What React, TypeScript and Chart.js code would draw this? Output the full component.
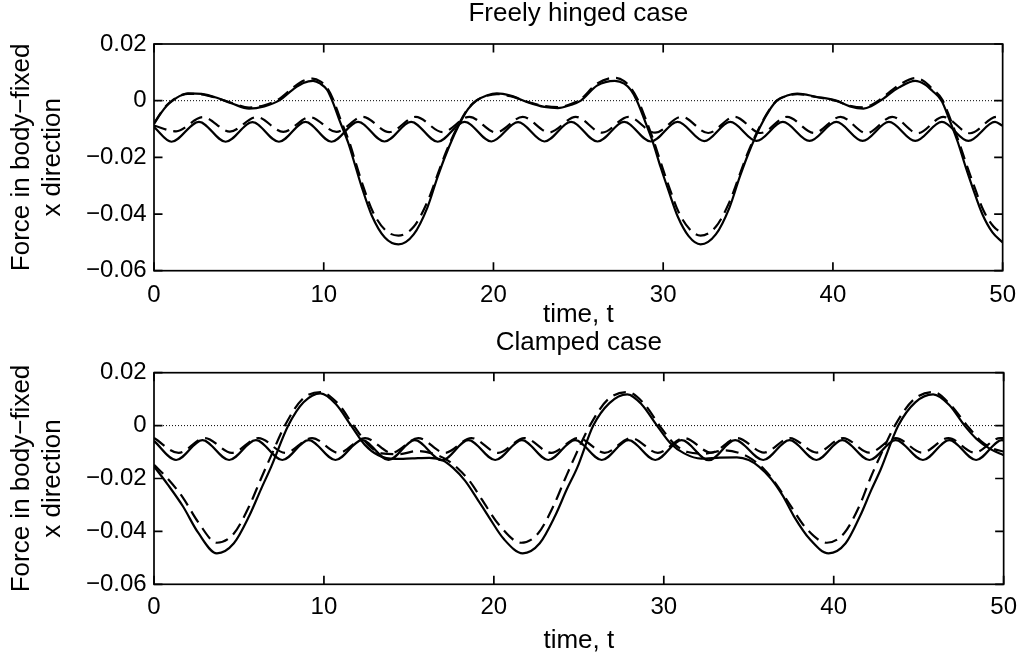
import React, { useEffect, useRef } from 'react';
import { Chart, registerables } from 'chart.js';

Chart.register(...registerables);

const FONT = "'Liberation Sans', Arial, Helvetica, sans-serif";

// ---- axes ----
const X_TICKS = [0, 10, 20, 30, 40, 50];
const X_TICK_LABELS = ['0', '10', '20', '30', '40', '50'];
const Y_TICKS = [-0.06, -0.04, -0.02, 0, 0.02];
const Y_TICK_LABELS = ['\u22120.06', '\u22120.04', '\u22120.02', '0', '0.02'];
const Y_LABEL = ['Force in body\u2212fixed', 'x direction'];
const X_LABEL = 'time, t';
const TOP_TITLE = 'Freely hinged case';
const BOTTOM_TITLE = 'Clamped case';

// ---- zero reference line ----
const ZERO_T = [0, 50];
const ZERO_V = [0, 0];

// ---- top panel (freely hinged): large curve, solid ----
const TOP_BIG_SOLID_T = [0, 0.4, 0.75, 1.1, 1.5, 2.0, 2.8, 3.6, 4.6, 5.6, 6.5, 7.36, 8.2, 8.8, 9.37, 9.8, 10.2, 10.5, 10.9, 11.45, 11.85, 12.24, 12.83, 13.6, 14.4, 15.3, 16.1, 16.7, 17.2, 17.9, 18.5, 19.0, 19.6, 20.2, 21.0, 22.0, 23.0, 23.8, 24.5, 25.15, 26.1, 27.15, 27.7, 28.1, 28.45, 28.9, 29.4, 29.85, 30.3, 30.85, 31.5, 32.2, 33.1, 33.9, 34.5, 35.0, 35.7, 36.3, 36.7, 37.3, 37.9, 39.0, 40.2, 41.0, 41.8, 42.3, 42.8, 43.9, 44.85, 45.4, 45.85, 46.4, 46.85, 47.35, 47.8, 48.25, 48.8, 49.4, 50];
const TOP_BIG_SOLID_V = [-0.0082, -0.0045, -0.0018, 0.0, 0.0016, 0.0026, 0.0024, 0.0012, -0.0010, -0.0028, -0.0020, 0.0, 0.0040, 0.0062, 0.0070, 0.0060, 0.0038, 0.0, -0.0065, -0.0150, -0.0228, -0.0305, -0.0405, -0.0483, -0.0507, -0.0472, -0.0378, -0.0271, -0.0190, -0.0094, -0.0030, 0.0, 0.0018, 0.0026, 0.0018, -0.0005, -0.0022, -0.0026, -0.0016, 0.0, 0.0053, 0.0070, 0.0060, 0.0037, 0.0, -0.0068, -0.0148, -0.0235, -0.0315, -0.0408, -0.0478, -0.0507, -0.0472, -0.0378, -0.0271, -0.0190, -0.0094, -0.0030, 0.0, 0.0018, 0.0025, 0.0014, 0.0, -0.0020, -0.0028, -0.0018, 0.0, 0.0047, 0.0070, 0.0058, 0.0035, 0.0, -0.0065, -0.0145, -0.0230, -0.0310, -0.0400, -0.0465, -0.0500];

// ---- top panel: large curve, dashed ----
const TOP_BIG_DASH_T = [0, 0.4, 0.75, 1.1, 1.5, 2.0, 2.8, 3.6, 4.6, 5.6, 6.5, 7.3, 8.2, 8.8, 9.35, 9.8, 10.2, 10.55, 10.95, 11.5, 11.9, 12.3, 12.9, 13.65, 14.4, 15.3, 16.1, 16.7, 17.2, 17.9, 18.5, 19.0, 19.6, 20.2, 21.0, 22.0, 23.0, 23.8, 24.5, 25.1, 26.1, 27.15, 27.7, 28.1, 28.5, 28.95, 29.45, 29.9, 30.35, 30.9, 31.55, 32.2, 33.1, 33.9, 34.5, 35.0, 35.7, 36.3, 36.7, 37.3, 37.9, 39.0, 40.2, 41.0, 41.8, 42.3, 42.75, 43.9, 44.85, 45.4, 45.85, 46.45, 46.9, 47.4, 47.85, 48.3, 48.85, 49.45, 50];
const TOP_BIG_DASH_V = [-0.0080, -0.0043, -0.0016, 0.0002, 0.0017, 0.0024, 0.0022, 0.0011, -0.0008, -0.0024, -0.0016, 0.0003, 0.0046, 0.0070, 0.0078, 0.0068, 0.0045, 0.0005, -0.0060, -0.0145, -0.0222, -0.0298, -0.0393, -0.0458, -0.0476, -0.0445, -0.0358, -0.0262, -0.0182, -0.0090, -0.0028, 0.0001, 0.0017, 0.0023, 0.0016, -0.0004, -0.0019, -0.0023, -0.0013, 0.0003, 0.0060, 0.0081, 0.0069, 0.0044, 0.0004, -0.0062, -0.0144, -0.0226, -0.0305, -0.0392, -0.0453, -0.0476, -0.0445, -0.0358, -0.0262, -0.0182, -0.0090, -0.0028, 0.0001, 0.0017, 0.0023, 0.0013, -0.0001, -0.0018, -0.0024, -0.0014, 0.0003, 0.0055, 0.0080, 0.0067, 0.0042, 0.0003, -0.0062, -0.0142, -0.0222, -0.0298, -0.0385, -0.0443, -0.0470];

// ---- top panel: small oscillation, solid ----
const TOP_SMALL_SOLID_T = [0, 1.03, 2.65, 4.22, 5.8, 7.36, 8.92, 10.46, 12.02, 13.58, 15.15, 16.72, 18.3, 19.88, 21.45, 23.0, 24.57, 26.13, 27.7, 29.27, 30.85, 32.42, 33.95, 35.5, 37.05, 38.62, 40.2, 41.75, 43.3, 44.85, 46.42, 47.98, 49.55, 50];
const TOP_SMALL_SOLID_V = [-0.0093, -0.0145, -0.0075, -0.0145, -0.0076, -0.0145, -0.0075, -0.0145, -0.0075, -0.0144, -0.0075, -0.0145, -0.0075, -0.0144, -0.0076, -0.0144, -0.0075, -0.0144, -0.0075, -0.0144, -0.0075, -0.0143, -0.0075, -0.0142, -0.0075, -0.0142, -0.0075, -0.0142, -0.0075, -0.0142, -0.0075, -0.0142, -0.0075, -0.0089];

// ---- top panel: small oscillation, dashed ----
const TOP_SMALL_DASH_T = [0, 1.3, 2.88, 4.47, 6.05, 7.62, 9.18, 10.75, 12.3, 13.86, 15.42, 17.0, 18.58, 20.15, 21.72, 23.28, 24.85, 26.4, 27.95, 29.52, 31.08, 32.65, 34.2, 35.75, 37.3, 38.88, 40.45, 41.98, 43.5, 45.0, 46.5, 48.08, 49.65, 50];
const TOP_SMALL_DASH_V = [-0.0088, -0.0108, -0.0058, -0.0109, -0.0058, -0.0110, -0.0058, -0.0110, -0.0057, -0.0111, -0.0057, -0.0111, -0.0057, -0.0112, -0.0057, -0.0112, -0.0057, -0.0113, -0.0057, -0.0113, -0.0057, -0.0114, -0.0057, -0.0114, -0.0057, -0.0114, -0.0057, -0.0115, -0.0057, -0.0115, -0.0057, -0.0115, -0.0057, -0.0063];

// ---- bottom panel (clamped): large curve, solid ----
const BOT_BIG_SOLID_T = [0, 0.8, 1.7, 2.6, 3.7, 4.7, 5.6, 6.3, 6.9, 7.9, 8.8, 9.8, 10.7, 11.6, 12.4, 13.2, 14.2, 15.2, 16.2, 17.0, 17.6, 18.3, 19.0, 19.7, 20.6, 21.7, 22.7, 23.6, 24.3, 24.9, 25.85, 26.8, 27.85, 28.7, 29.6, 30.4, 31.2, 32.2, 33.3, 34.3, 35.0, 35.6, 36.3, 37.0, 37.65, 38.6, 39.7, 40.7, 41.55, 42.2, 42.75, 43.8, 44.8, 45.85, 46.8, 47.7, 48.4, 49.2, 50];
const BOT_BIG_SOLID_V = [-0.0154, -0.0222, -0.0305, -0.0405, -0.0483, -0.0445, -0.0342, -0.0240, -0.0155, 0.0, 0.0088, 0.0122, 0.0082, 0.0, -0.0072, -0.0112, -0.0126, -0.0124, -0.0122, -0.0132, -0.0160, -0.0208, -0.0275, -0.0345, -0.0430, -0.0483, -0.0445, -0.0342, -0.0240, -0.0160, 0.0, 0.0085, 0.0118, 0.0080, 0.0, -0.0068, -0.0105, -0.0125, -0.0121, -0.0120, -0.0130, -0.0155, -0.0200, -0.0265, -0.0342, -0.0430, -0.0483, -0.0445, -0.0342, -0.0245, -0.0168, 0.0, 0.0088, 0.0118, 0.0078, 0.0, -0.0050, -0.0088, -0.0112];

// ---- bottom panel: large curve, dashed ----
const BOT_BIG_DASH_T = [0, 0.8, 1.7, 2.6, 3.7, 4.7, 5.6, 6.3, 6.85, 7.7, 8.7, 9.8, 10.8, 11.75, 12.6, 13.4, 14.4, 15.5, 16.4, 17.2, 17.9, 18.6, 19.3, 20.3, 21.6, 22.6, 23.5, 24.2, 24.75, 25.65, 26.7, 27.85, 28.85, 29.75, 30.6, 31.4, 32.4, 33.6, 34.5, 35.2, 35.9, 36.6, 37.35, 38.4, 39.6, 40.6, 41.5, 42.15, 42.7, 43.6, 44.7, 45.85, 46.85, 47.85, 48.7, 49.4, 50];
const BOT_BIG_DASH_V = [-0.0148, -0.0200, -0.0272, -0.0365, -0.0443, -0.0408, -0.0305, -0.0200, -0.0120, 0.0, 0.0098, 0.0127, 0.0085, 0.0, -0.0072, -0.0105, -0.0108, -0.0096, -0.0106, -0.0128, -0.0163, -0.0212, -0.0280, -0.0375, -0.0443, -0.0408, -0.0305, -0.0200, -0.0120, 0.0, 0.0098, 0.0127, 0.0082, 0.0, -0.0068, -0.0100, -0.0106, -0.0094, -0.0105, -0.0128, -0.0165, -0.0220, -0.0292, -0.0390, -0.0443, -0.0408, -0.0305, -0.0200, -0.0120, 0.0, 0.0098, 0.0127, 0.0080, 0.0, -0.0060, -0.0088, -0.0098];

// ---- bottom panel: small oscillation, solid ----
const BOT_SMALL_SOLID_T = [0, 1.3, 2.85, 4.42, 6.0, 7.55, 9.1, 10.68, 12.25, 13.8, 15.35, 16.95, 18.5, 20.08, 21.65, 23.2, 24.78, 26.35, 27.92, 29.5, 31.05, 32.65, 34.2, 35.85, 37.4, 38.98, 40.5, 42.1, 43.65, 45.25, 46.8, 48.38, 49.9, 50];
const BOT_SMALL_SOLID_V = [-0.0058, -0.0130, -0.0055, -0.0130, -0.0055, -0.0130, -0.0055, -0.0130, -0.0055, -0.0130, -0.0055, -0.0131, -0.0055, -0.0130, -0.0055, -0.0130, -0.0055, -0.0130, -0.0055, -0.0130, -0.0055, -0.0131, -0.0055, -0.0130, -0.0055, -0.0130, -0.0055, -0.0130, -0.0055, -0.0130, -0.0055, -0.0130, -0.0055, -0.0056];

// ---- bottom panel: small oscillation, dashed ----
const BOT_SMALL_DASH_T = [0, 1.45, 3.0, 4.58, 6.15, 7.72, 9.3, 10.86, 12.42, 14.0, 15.55, 17.12, 18.68, 20.25, 21.8, 23.38, 24.95, 26.52, 28.08, 29.65, 31.2, 32.78, 34.32, 35.9, 37.42, 39.0, 40.55, 42.1, 43.65, 45.2, 46.75, 48.28, 49.8, 50];
const BOT_SMALL_DASH_V = [-0.0047, -0.0103, -0.0047, -0.0103, -0.0047, -0.0103, -0.0047, -0.0103, -0.0047, -0.0103, -0.0047, -0.0103, -0.0047, -0.0103, -0.0047, -0.0103, -0.0047, -0.0103, -0.0047, -0.0103, -0.0047, -0.0102, -0.0047, -0.0102, -0.0047, -0.0102, -0.0047, -0.0102, -0.0047, -0.0102, -0.0047, -0.0102, -0.0047, -0.0048];

const pts = (t: number[], v: number[]) => t.map((x, i) => ({ x, y: v[i] }));

const solid = (t: number[], v: number[]) => ({
  data: pts(t, v),
  borderColor: '#000',
  borderWidth: 2.2,
  pointRadius: 0,
  fill: false,
  cubicInterpolationMode: 'monotone' as const,
});
const dashed = (t: number[], v: number[]) => ({ ...solid(t, v), borderDash: [13, 7] });
const dotted = (t: number[], v: number[]) => ({
  data: pts(t, v),
  borderColor: '#000',
  borderWidth: 1,
  borderDash: [1, 2],
  pointRadius: 0,
  fill: false,
});

const boxPlugin = {
  id: 'matlabBox',
  afterDatasetsDraw(chart: any) {
    const { ctx, chartArea, scales } = chart;
    const { left, right, top, bottom } = chartArea;
    const tl = 8.5;
    ctx.save();
    ctx.strokeStyle = '#000';
    ctx.lineWidth = 1.7;
    ctx.setLineDash([]);
    ctx.strokeRect(left, top, right - left, bottom - top);
    ctx.beginPath();
    for (const v of X_TICKS) {
      const px = scales.x.getPixelForValue(v);
      ctx.moveTo(px, bottom);
      ctx.lineTo(px, bottom - tl);
      ctx.moveTo(px, top);
      ctx.lineTo(px, top + tl);
    }
    for (const v of Y_TICKS) {
      const py = scales.y.getPixelForValue(v);
      ctx.moveTo(left, py);
      ctx.lineTo(left + tl, py);
      ctx.moveTo(right, py);
      ctx.lineTo(right - tl, py);
    }
    ctx.stroke();
    ctx.restore();
  },
};

interface PanelLayout {
  title: string;
  titlePadTop: number;
  titlePadBottom: number;
  xAxisHeight: number;
  xTitlePadBottom: number;
  xTickPad: number;
}

function makeConfig(datasets: any[], L: PanelLayout): any {
  return {
    type: 'line',
    data: { datasets },
    plugins: [boxPlugin],
    options: {
      responsive: false,
      animation: false,
      devicePixelRatio: 1,
      events: [],
      layout: { padding: { left: 0, right: 18.7, top: 0, bottom: 0 } },
      plugins: {
        legend: { display: false },
        tooltip: { enabled: false },
        title: {
          display: true,
          text: L.title,
          fullSize: false,
          color: '#000',
          font: { family: FONT, size: 26, weight: 'normal', lineHeight: 1 },
          padding: { top: L.titlePadTop, bottom: L.titlePadBottom },
        },
      },
      scales: {
        x: {
          type: 'linear',
          min: 0,
          max: 50,
          afterBuildTicks: (scale: any) => {
            scale.ticks = X_TICKS.map((value) => ({ value }));
          },
          afterFit: (scale: any) => {
            scale.height = L.xAxisHeight;
          },
          grid: { display: false, drawTicks: false },
          border: { display: false },
          ticks: {
            autoSkip: false,
            maxRotation: 0,
            color: '#000',
            padding: L.xTickPad,
            font: { family: FONT, size: 24 },
            callback: (_v: any, i: number) => X_TICK_LABELS[i],
          },
          title: {
            display: true,
            text: X_LABEL,
            color: '#000',
            font: { family: FONT, size: 26 },
            padding: { top: 0, bottom: L.xTitlePadBottom },
          },
        },
        y: {
          type: 'linear',
          min: -0.06,
          max: 0.02,
          afterBuildTicks: (scale: any) => {
            scale.ticks = Y_TICKS.map((value) => ({ value }));
          },
          afterFit: (scale: any) => {
            scale.width = 154;
          },
          grid: { display: false, drawTicks: false },
          border: { display: false },
          ticks: {
            color: '#000',
            padding: 7.3,
            font: { family: FONT, size: 24 },
            callback: (_v: any, i: number) => Y_TICK_LABELS[i],
          },
          title: {
            display: true,
            text: Y_LABEL,
            color: '#000',
            font: { family: FONT, size: 26 },
            padding: { top: 6, bottom: 0 },
          },
        },
      },
    },
  };
}

export default function App() {
  const topRef = useRef<HTMLCanvasElement>(null);
  const botRef = useRef<HTMLCanvasElement>(null);

  useEffect(() => {
    const topChart = new Chart(
      topRef.current as HTMLCanvasElement,
      makeConfig(
        [
          dotted(ZERO_T, ZERO_V),
          dashed(TOP_SMALL_DASH_T, TOP_SMALL_DASH_V),
          solid(TOP_SMALL_SOLID_T, TOP_SMALL_SOLID_V),
          dashed(TOP_BIG_DASH_T, TOP_BIG_DASH_V),
          solid(TOP_BIG_SOLID_T, TOP_BIG_SOLID_V),
        ],
        {
          title: TOP_TITLE,
          titlePadTop: 1,
          titlePadBottom: 17,
          xAxisHeight: 59.3,
          xTitlePadBottom: 0,
          xTickPad: 10,
        }
      )
    );
    const botChart = new Chart(
      botRef.current as HTMLCanvasElement,
      makeConfig(
        [
          dotted(ZERO_T, ZERO_V),
          dashed(BOT_SMALL_DASH_T, BOT_SMALL_DASH_V),
          solid(BOT_SMALL_SOLID_T, BOT_SMALL_SOLID_V),
          dashed(BOT_BIG_DASH_T, BOT_BIG_DASH_V),
          solid(BOT_BIG_SOLID_T, BOT_BIG_SOLID_V),
        ],
        {
          title: BOTTOM_TITLE,
          titlePadTop: 0,
          titlePadBottom: 16.7,
          xAxisHeight: 74.7,
          xTitlePadBottom: 2.4,
          xTickPad: 9,
        }
      )
    );
    return () => {
      topChart.destroy();
      botChart.destroy();
    };
  }, []);

  return (
    <div style={{ position: 'fixed', left: 0, top: 0, width: 1026, height: 659, background: '#fff' }}>
      <canvas
        ref={topRef}
        width={1026}
        height={330}
        style={{ position: 'absolute', left: 0, top: 0, width: 1026, height: 330 }}
      />
      <canvas
        ref={botRef}
        width={1026}
        height={329}
        style={{ position: 'absolute', left: 0, top: 330, width: 1026, height: 329 }}
      />
    </div>
  );
}
